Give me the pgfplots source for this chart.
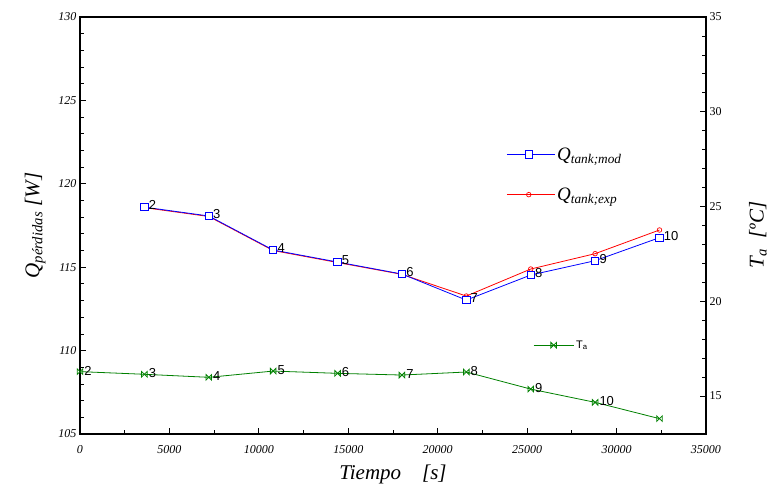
\documentclass[border=0pt]{standalone}
\usepackage{fontspec}
\setmainfont{Liberation Serif}
\newfontfamily\arial{Liberation Sans}
\usepackage{pgfplots}
\pgfplotsset{compat=1.18}
\usepackage{pgfplotstable}

\pgfdeclareplotmark{bowtie}{%
 \pgfpathmoveto{\pgfqpoint{-\pgfplotmarksize}{-\pgfplotmarksize}}%
 \pgfpathlineto{\pgfqpoint{\pgfplotmarksize}{\pgfplotmarksize}}%
 \pgfpathlineto{\pgfqpoint{\pgfplotmarksize}{-\pgfplotmarksize}}%
 \pgfpathlineto{\pgfqpoint{-\pgfplotmarksize}{\pgfplotmarksize}}%
 \pgfpathclose
 \pgfusepathqstroke}

\pgfplotstableread{
x y lab
3600 118.60 2
7200 118.07 3
10800 116.03 4
14400 115.31 5
18000 114.59 6
21600 113.03 7
25200 114.53 8
28800 115.39 9
32400 116.77 10
}\modtab

\pgfplotstableread{
x y
3600 118.57
7200 118.04
10800 116.00
14400 115.28
18000 114.57
21600 113.27
25200 114.89
28800 115.81
32400 117.23
}\exptab

\pgfplotstableread{
x y lab
0 16.29 2
3600 16.15 3
7200 15.99 4
10800 16.32 5
14400 16.20 6
18000 16.11 7
21600 16.27 8
25200 15.37 9
28800 14.67 10
32400 13.81 {}
}\tatab

\definecolor{gdark}{RGB}{0,128,0}

\begin{document}
\begin{tikzpicture}
\useasboundingbox (-80pt,-55pt) rectangle (692pt,434pt);
\begin{axis}[
  scale only axis,
  width=626pt, height=417pt,
  xmin=0, xmax=35000, ymin=105, ymax=130,
  xtick={0,5000,...,35000},
  ytick={105,110,...,130},
  minor x tick num=1,
  minor y tick num=4,
  xtick pos=lower, ytick pos=left,
  tick align=inside,
  major tick length=6pt, minor tick length=3.5pt,
  axis line style={line width=1.1pt},
  every tick/.style={black, line width=0.8pt},
  scaled x ticks=false,
  /pgf/number format/assume math mode=true,
  /pgf/number format/set thousands separator={},
  ticklabel style={font=\fontsize{12}{14}\selectfont\itshape},
  xticklabel style={yshift=-8pt},
  xlabel={\itshape Tiempo\quad[s]},
  ylabel={\itshape Q\textsubscript{pérdidas} [W]},
  label style={font=\fontsize{21}{24}\selectfont},
  xlabel style={yshift=-4pt},
  ylabel style={yshift=6pt},
  legend style={at={(rel axis cs:0.676,0.697)}, anchor=north west, draw=none, fill=none,
     row sep=22pt, font=\fontsize{19}{21}\selectfont\itshape},
  legend cell align=left,
  reverse legend,
  legend image code/.code={\draw[mark repeat=2,mark phase=2,#1] plot coordinates {(0pt,0pt) (22pt,0pt) (48pt,0pt)};},
  nodes near coords style={font=\arial\fontsize{13}{14}\selectfont, black, anchor=west, inner sep=1pt, xshift=3pt, yshift=2pt},
]
\addplot[red, line width=0.8pt, mark=o, mark size=2.3pt, mark options={solid,line width=0.7pt}] table[x=x,y=y] {\exptab};
\addlegendentry{Q\textsubscript{tank;exp}}
\addplot[blue, line width=0.8pt, mark=square*, mark size=3.7pt, mark options={solid,line width=0.8pt,fill=white},
  nodes near coords, point meta=explicit symbolic] table[x=x,y=y,meta=lab] {\modtab};
\addlegendentry{Q\textsubscript{tank;mod}}
\end{axis}
\begin{axis}[
  scale only axis,
  width=626pt, height=417pt,
  xmin=0, xmax=35000, ymin=13, ymax=35,
  axis x line=none,
  axis y line*=right,
  ytick={15,20,...,35},
  minor y tick num=4,
  tick align=inside,
  major tick length=6pt, minor tick length=3.5pt,
  axis line style={line width=1.1pt},
  every tick/.style={black, line width=0.8pt},
  /pgf/number format/assume math mode=true,
  yticklabel style={font=\fontsize{12}{14}\selectfont},
  ylabel={\itshape T\textsubscript{a}\ \ [ºC]},
  ylabel style={font=\fontsize{21}{24}\selectfont, at={(rel axis cs:1.083,0.477)}, anchor=center, rotate=0},
  legend style={at={(rel axis cs:0.719,0.213)}, anchor=west, draw=none, fill=none,
     font=\arial\fontsize{11}{12}\selectfont},
  legend image code/.code={\draw[mark repeat=2,mark phase=2,#1] plot coordinates {(0pt,0pt) (20pt,0pt) (40pt,0pt)};},
  nodes near coords style={font=\arial\fontsize{13}{14}\selectfont, black, anchor=west, inner sep=1pt, xshift=3pt, yshift=1pt},
]
\addplot[gdark, line width=0.8pt, mark=bowtie, mark size=2.8pt, mark options={solid,line width=0.8pt},
  nodes near coords, point meta=explicit symbolic] table[x=x,y=y,meta=lab] {\tatab};
\addlegendentry{T\textsubscript{a}}
\end{axis}
\end{tikzpicture}
\end{document}
